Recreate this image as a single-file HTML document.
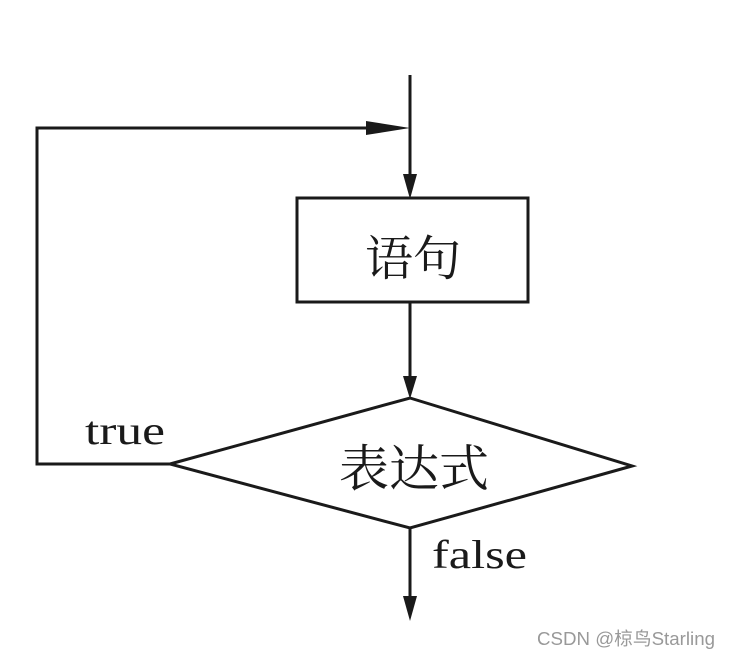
<!DOCTYPE html>
<html><head><meta charset="utf-8"><style>
html,body{margin:0;padding:0;background:#fff;}
svg{display:block}
</style></head><body>
<svg width="729" height="658" viewBox="0 0 729 658" xmlns="http://www.w3.org/2000/svg">
<rect width="729" height="658" fill="#fff"/>
<g stroke="#1a1a1a" stroke-width="3" fill="none">
<line x1="410" y1="75" x2="410" y2="190"/>
<rect x="297" y="198" width="231" height="104"/>
<line x1="410" y1="302" x2="410" y2="390"/>
<polygon points="170,464 410,398 632,466 410,528"/>
<line x1="410" y1="528" x2="410" y2="612"/>
<polyline points="170,464 37,464 37,128 400,128"/>
</g>
<g fill="#1a1a1a">
<polygon points="403,174 417,174 410,199"/>
<polygon points="403,376 417,376 410,399"/>
<polygon points="403,596 417,596 410,621"/>
<polygon points="366,121 366,135 410,128"/>
</g>
<g font-family="'Liberation Serif','Noto Serif CJK SC',serif" fill="#1a1a1a">
<text x="413" y="275" font-size="48" text-anchor="middle">语句</text>
<text x="414" y="486" font-size="50" text-anchor="middle">表达式</text>
<text x="85" y="444" font-size="40" textLength="80" lengthAdjust="spacingAndGlyphs">true</text>
<text x="432" y="568" font-size="40" textLength="95" lengthAdjust="spacingAndGlyphs">false</text>
</g>
<text x="537" y="645" font-family="'Liberation Sans','Noto Sans CJK SC',sans-serif" font-size="18" textLength="178" lengthAdjust="spacingAndGlyphs" fill="#999">CSDN @椋鸟Starling</text>
</svg>
</body></html>
